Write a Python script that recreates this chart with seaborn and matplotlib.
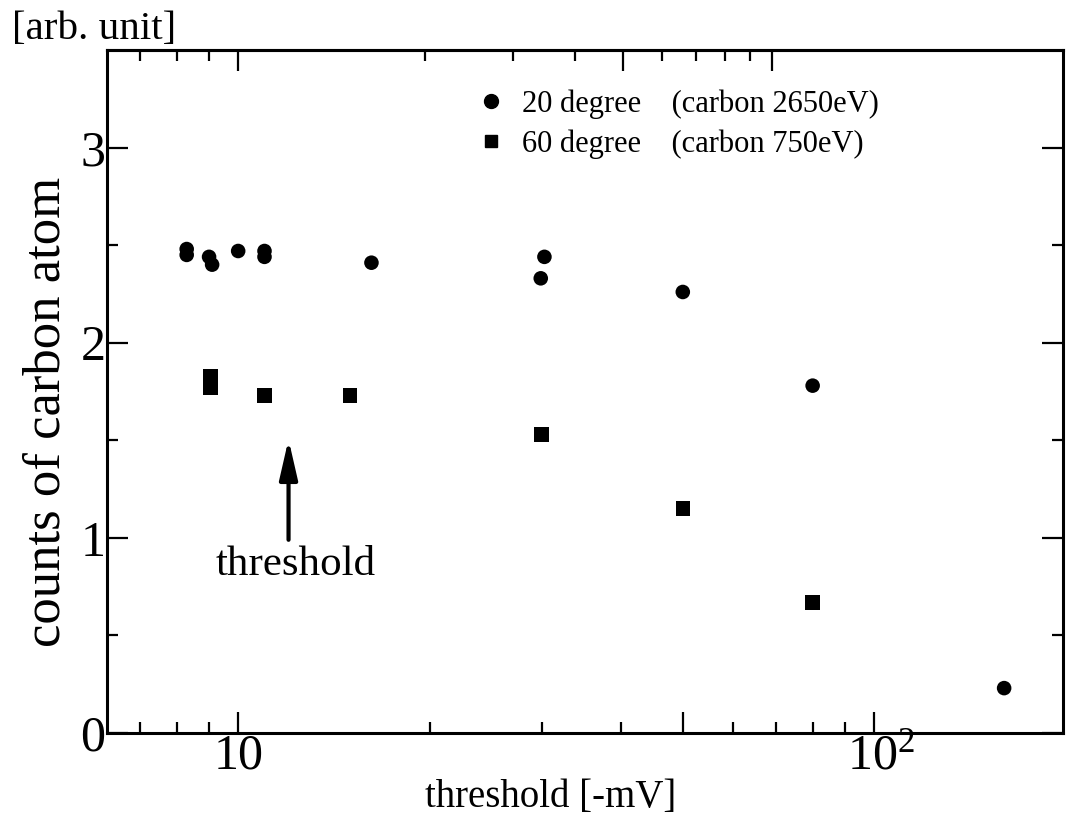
import pandas as pd
import matplotlib.pyplot as plt
import seaborn as sns
from matplotlib.lines import Line2D
from matplotlib.transforms import ScaledTranslation

# data
x_20deg = [8.3, 8.3, 9.0, 9.1, 10.0, 11.0, 11.0, 16.2, 30.3, 29.9, 50.0, 80.0, 160.0]
y_20deg = [2.48, 2.45, 2.44, 2.40, 2.47, 2.47, 2.44, 2.41, 2.44, 2.33, 2.26, 1.78, 0.23]
x_60deg = [9.05, 9.05, 11.0, 15.0, 30.0, 50.0, 80.0]
y_60deg = [1.83, 1.77, 1.73, 1.73, 1.53, 1.15, 0.67]

series_names = ['20 degree', '60 degree']
series_notes = ['(carbon 2650eV)', '(carbon 750eV)']

x_major = [10, 50, 100]
x_minor = [7, 8, 9, 20, 30, 40, 60, 70, 80, 90]
x_labels = ['10', '', r'$\mathregular{10^2}$']
top_major = [10, 40.2, 69.0]
top_minor = [7, 8, 9, 19.7, 27.0, 33.8, 46.3, 52.4, 58.2, 63.7]

df = pd.concat([
    pd.DataFrame({'thr': x_20deg, 'counts': y_20deg, 'set': series_names[0]}),
    pd.DataFrame({'thr': x_60deg, 'counts': y_60deg, 'set': series_names[1]}),
])

sns.set_style('ticks')
plt.rcParams['font.family'] = ['Liberation Serif', 'DejaVu Serif']
plt.rcParams['mathtext.fontset'] = 'custom'
plt.rcParams['mathtext.rm'] = 'Liberation Serif'
for k in ['text.color', 'axes.labelcolor', 'xtick.color', 'ytick.color', 'axes.edgecolor']:
    plt.rcParams[k] = 'black'

fig = plt.figure(figsize=(10.66, 8.39), dpi=100)
ax = fig.add_axes([107/1066, 1 - 733/839, 956/1066, 683/839])

sns.scatterplot(data=df, x='thr', y='counts', style='set', hue='set',
                markers={series_names[0]: 'o', series_names[1]: 's'},
                palette={series_names[0]: 'black', series_names[1]: 'black'},
                s=110, linewidth=0, legend=False, ax=ax)

ax.set_xscale('log')
ax.set_xlim(6.22, 198)
ax.set_ylim(0, 3.5)

ax.set_xticks(x_major)
ax.set_xticklabels(x_labels)
ax.set_xticks(x_minor, minor=True)
ax.set_xticklabels([], minor=True)
ax.set_yticks([0, 1, 2, 3])
ax.set_yticks([0.5, 1.5, 2.5], minor=True)

for sp in ax.spines.values():
    sp.set_linewidth(2.2)

ax.tick_params(which='both', direction='in', width=1.6,
               left=True, right=True, bottom=True, top=False)
ax.tick_params(which='major', length=15)
ax.tick_params(which='minor', length=8)
ax.tick_params(axis='x', labelsize=36, pad=0)
ax.tick_params(axis='y', labelsize=36, pad=1)

# shift 10^2 so the "10" part sits on its tick like in the original
lab = ax.get_xticklabels()[2]
lab.set_transform(lab.get_transform() + ScaledTranslation(0.07, 0, fig.dpi_scale_trans))

sec = ax.secondary_xaxis('top')
sec.set_xticks(top_major)
sec.set_xticks(top_minor, minor=True)
sec.set_xticklabels([])
sec.set_xticklabels([], minor=True)
sec.tick_params(which='both', direction='in', width=1.6)
sec.tick_params(which='major', length=15)
sec.tick_params(which='minor', length=8)
sec.spines['top'].set_linewidth(2.2)

ax.set_xlabel('threshold [-mV]', fontsize=28)
ax.xaxis.set_label_coords(0.464, -0.068)
ax.set_ylabel('counts of carbon atom', fontsize=38)
ax.yaxis.set_label_coords(-0.038, 0.47)

fig.text(0.011, 1 - 30/839, '[arb. unit]', fontsize=29.5, va='center', ha='left')

# threshold arrow
ax.annotate('', xy=(12.0, 1.505), xytext=(12.0, 0.99),
            arrowprops=dict(arrowstyle='-|>,head_length=2.4,head_width=0.55',
                            lw=3, color='black', shrinkA=0, shrinkB=0))
ax.text(12.3, 0.862, 'threshold', fontsize=31, ha='center', va='center')

handles = [Line2D([], [], marker='o', ls='', color='black', markersize=10),
           Line2D([], [], marker='s', ls='', color='black', markersize=9)]
labels = [f'{n}    {c}' for n, c in zip(series_names, series_notes)]
ax.legend(handles, labels, loc='upper left', bbox_to_anchor=(0.386, 0.942),
          frameon=False, fontsize=22, borderpad=0, borderaxespad=0,
          handlelength=1.0, handletextpad=0.5, labelspacing=0.33)

fig.savefig('out.png', dpi=100)
